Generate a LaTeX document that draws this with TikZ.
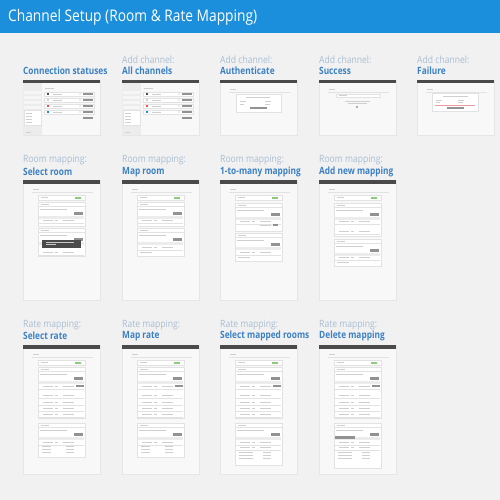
\documentclass[tikz,border=0pt]{standalone}
\usepackage{fontspec}
\setmainfont{Open Sans}
\newfontfamily\narrowfont{Open Sans}[FakeStretch=0.86]
\newfontfamily\narrowbold{Open Sans Bold}[FakeStretch=0.83]
\usetikzlibrary{positioning}

\definecolor{bgcol}{HTML}{F1F1F1}
\definecolor{hdrblue}{HTML}{1C8FDC}
\definecolor{lblgrey}{HTML}{A9BDD2}
\definecolor{lblblue}{HTML}{3C80C4}
\definecolor{cardcol}{HTML}{F8F8F8}
\definecolor{cardline}{HTML}{E6E6E6}
\definecolor{barcol}{HTML}{4A4A4A}
\definecolor{panelline}{HTML}{E2E2E2}
\definecolor{textgrey}{HTML}{CFCFCF}
\definecolor{btngrey}{HTML}{929292}
\definecolor{sidecol}{HTML}{ECECEC}
\definecolor{okgreen}{HTML}{8CCB7C}
\definecolor{errred}{HTML}{E99A9A}

\tikzset{
  card/.style={fill=cardcol, draw=cardline, line width=0.4pt},
  topbar/.style={fill=barcol},
  panel/.style={fill=white, draw=panelline, line width=0.3pt},
  txt/.style={draw=textgrey, line width=0.7pt},
  btn/.style={fill=btngrey},
  upper/.style={anchor=west, inner sep=0pt, text=lblgrey, font=\narrowfont\fontsize{10}{12}\selectfont},
  lower/.style={upper, text=lblblue, font=\narrowbold\fontsize{10}{12}\selectfont},
}

% one screenshot card with its dark top bar
\newcommand\screen[3]{%
  \filldraw[card] (#1,#2) rectangle ++(77,#3);
  \fill[topbar] (#1,#2) rectangle ++(77,3.5);
}
% page title line under the bar
\newcommand\pagetitle[2]{%
  \draw[txt] (#1+10,#2+9) -- ++(6,0);
  \draw[panelline, line width=0.3pt] (#1+9,#2+12) -- (#1+70,#2+12);
}
% channel list (connection statuses)
\newcommand\chanlist[2]{%
  \fill[sidecol] (#1,#2+3.5) rectangle (#1+19,#2+55);
  \foreach \k in {11,16,21,26} \fill[white!50!sidecol] (#1+1,#2+\k) rectangle ++(17,3);
  \filldraw[panel] (#1+1,#2+30) rectangle (#1+18,#2+45);
  \foreach \k in {33,36,39,42} \draw[txt, line width=0.4pt] (#1+3,#2+\k) -- ++(6,0);
  \draw[txt] (#1+22,#2+8) -- ++(9,0);
  \foreach \k/\c in {14/barcol,20/textgrey,26/red!70,32/hdrblue} {
    \filldraw[panel] (#1+21,#2+\k-2.2) rectangle (#1+71,#2+\k+2.2);
    \fill[\c] (#1+24,#2+\k-1) rectangle ++(2,2);
    \draw[txt] (#1+30,#2+\k) -- ++(9,0);
    \fill[okgreen] (#1+57,#2+\k) circle (0.7);
    \fill[btn] (#1+60,#2+\k-1.2) rectangle (#1+70,#2+\k+1.2);
  }
  \fill[btn] (#1+60,#2+36.8) rectangle (#1+70,#2+39.2);
  \draw[txt, line width=0.4pt] (#1+3,#2+52) -- ++(5,0);
}
% status row on top of the mapping pages
\newcommand\toprow[2]{%
  \filldraw[panel] (#1+15,#2+15) rectangle (#1+62,#2+20);
  \draw[txt] (#1+18,#2+17.5) -- ++(7,0);
  \fill[okgreen] (#1+52,#2+16.5) rectangle ++(6,2);
}
% mapping section: x0, top, bottom
\newcommand\sect[3]{%
  \filldraw[panel] (#1+15,#2) rectangle (#1+62,#3);
  \draw[panelline, line width=0.3pt] (#1+15,#2+4.5) -- (#1+62,#2+4.5);
  \draw[txt] (#1+18,#2+2.3) -- ++(8,0);
  \draw[txt, line width=0.4pt] (#1+17,#2+7.5) -- ++(27,0);
  \fill[btn] (#1+51,#2+10) rectangle (#1+60,#2+12.5);
  \fill[sidecol] (#1+16,#2+14) rectangle (#1+61,#2+16.5);
}
% one mapping row: x0, y
\newcommand\mrow[2]{%
  \draw[txt] (#1+20,#2) -- ++(10,0);
  \draw[txt] (#1+32,#2) -- ++(3,0);
  \draw[txt] (#1+40,#2) -- ++(11,0);
  \draw[panelline, line width=0.3pt] (#1+16,#2+3) -- (#1+61,#2+3);
}

\begin{document}
\begin{tikzpicture}[x=1pt, y=-1pt]
\useasboundingbox (0,0) rectangle (500,500);
\fill[bgcol] (0,0) rectangle (500,500);

% header
\fill[hdrblue] (0,0) rectangle (500,33);
\node[anchor=west, inner sep=0pt, text=white, font=\narrowfont\fontsize{16}{18}\selectfont] (title) at (8,17.5) {Channel Setup (Room \& Rate Mapping)};

% row 1: channels
\node[lower] (status) at (23,71) {Connection statuses};
\node[upper] (allch-a) at (122,60) {Add channel:};
\node[lower] (allch) at (122,71) {All channels};
\node[upper] (auth-a) at (220,60) {Add channel:};
\node[lower] (auth) at (220,71) {Authenticate};
\node[upper] (succ-a) at (319,60) {Add channel:};
\node[lower] (succ) at (319,71) {Success};
\node[upper] (fail-a) at (417,60) {Add channel:};
\node[lower] (fail) at (417,71) {Failure};

\foreach \x in {23,122,220,319,417} \screen{\x}{80}{55};
\chanlist{23}{80}
\chanlist{122}{80}

% authenticate
\pagetitle{220}{80}
\filldraw[panel] (236,94) rectangle (281,112);
\draw[txt] (246,97.5) -- ++(24,0);
\draw[txt] (240,101.5) -- ++(6,0) (265,101.5) -- ++(6,0);
\draw[txt] (240,104.5) -- ++(4,0) (265,104.5) -- ++(5,0);
\fill[btn] (250,107.5) rectangle (267,109.5);

% success
\pagetitle{319}{80}
\filldraw[panel] (336,94) rectangle (380,97.5);
\draw[txt] (339,95.7) -- ++(8,0);
\draw[txt, line width=0.4pt] (345,101.5) -- ++(25,0) (348,103.5) -- ++(19,0);
\fill[btngrey] (357,107) circle (1.1);

% failure
\pagetitle{417}{80}
\filldraw[panel] (432,93) rectangle (478,111);
\draw[txt] (443,96.5) -- ++(25,0);
\draw[txt] (436,100) -- ++(6,0) (458,100) -- ++(6,0);
\draw[txt] (436,102.5) -- ++(4,0) (458,102.5) -- ++(5,0);
\draw[errred, line width=0.6pt] (435,105) -- (475,105);
\fill[btn] (447,107.5) rectangle (464,109.5);

% row 2: room mapping
\node[upper] (selroom-a) at (23,160) {Room mapping:};
\node[lower] (selroom) at (23,172) {Select room};
\node[upper] (maproom-a) at (122,160) {Room mapping:};
\node[lower] (maproom) at (122,172) {Map room};
\node[upper] (onemany-a) at (220,160) {Room mapping:};
\node[lower] (onemany) at (220,172) {1-to-many mapping};
\node[upper] (addnew-a) at (319,160) {Room mapping:};
\node[lower] (addnew) at (319,172) {Add new mapping};

\foreach \x in {23,122,220,319} {
  \screen{\x}{180}{120}
  \pagetitle{\x}{180}
  \toprow{\x}{180}
}
% select room
\sect{23}{202}{226} \mrow{23}{220}
\sect{23}{228}{256} \mrow{23}{252}
\fill[barcol] (42,240) rectangle (81,247.5);
\draw[white!70!barcol, line width=0.4pt] (46,242.5) -- ++(28,0) (46,244.5) -- ++(10,0);
% map room
\sect{122}{202}{226} \mrow{122}{220}
\sect{122}{228}{256} \mrow{122}{247} \draw[txt] (140,252) -- ++(12,0);
% 1-to-many
\sect{220}{203}{231} \mrow{220}{221}
\draw[txt] (260,225) -- ++(11,0); \fill[btn] (273,223.5) rectangle ++(5,2.5);
\sect{220}{233}{261} \mrow{220}{252} \draw[txt] (238,257) -- ++(12,0);
% add new mapping
\sect{319}{203}{236} \mrow{319}{221} \mrow{319}{231}
\sect{319}{239}{266} \mrow{319}{257} \draw[txt] (337,262) -- ++(12,0);

% row 3: rate mapping
\node[upper] (selrate-a) at (23,325) {Rate mapping:};
\node[lower] (selrate) at (23,336) {Select rate};
\node[upper] (maprate-a) at (122,325) {Rate mapping:};
\node[lower] (maprate) at (122,336) {Map rate};
\node[upper] (selmapped-a) at (220,325) {Rate mapping:};
\node[lower] (selmapped) at (220,336) {Select mapped rooms};
\node[upper] (delmap-a) at (319,325) {Rate mapping:};
\node[lower] (delmap) at (319,336) {Delete mapping};

\foreach \x/\b in {23/457,122/457,220/465,319/468} {
  \screen{\x}{345}{129}
  \pagetitle{\x}{345}
  \toprow{\x}{345}
  \sect{\x}{367}{418}
  \foreach \k in {386,395,402,408,414} \mrow{\x}{\k}
  \fill[btn] (\x+53,384.5) rectangle ++(8,2.5);
  \sect{\x}{423}{\b}
  \mrow{\x}{442}
}
% rate pickers
\foreach \x in {23,122} {
  \foreach \k in {446,449,452} \draw[txt, line width=0.4pt] (\x+19,\k) -- ++(9,0) (\x+43,\k) -- ++(8,0);
}
\foreach \x in {220,319} {
  \mrow{\x}{447}
  \foreach \k in {452,455,458} \draw[txt, line width=0.4pt] (\x+19,\k) -- ++(14,0) (\x+43,\k) -- ++(8,0);
}
\fill[btn] (335,436) rectangle ++(20,2.5);
\end{tikzpicture}
\end{document}
